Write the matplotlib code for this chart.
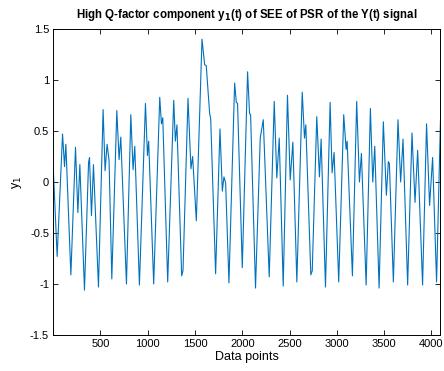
import numpy as np
import matplotlib
matplotlib.use("Agg")
import matplotlib.pyplot as plt

# turning points of y1(t)
sample_idx = [1, 42, 99, 120, 134, 187, 236, 261, 282, 331, 374, 384, 405, 426, 479,
              528, 549, 570, 591, 620, 673, 697, 715, 775, 821, 845, 863, 912, 976,
              997, 1010, 1063, 1127, 1145, 1159, 1211, 1275, 1292, 1309, 1359, 1373,
              1426, 1457, 1475, 1514, 1574, 1602, 1619, 1655, 1666, 1718, 1764, 1789,
              1806, 1824, 1859, 1919, 1937, 1950, 2000, 2056, 2077, 2088, 2140, 2190,
              2222, 2285, 2338, 2365, 2391, 2433, 2478, 2507, 2535, 2577, 2634, 2658,
              2672, 2725, 2740, 2788, 2816, 2834, 2880, 2929, 2950, 2971, 3020, 3073,
              3098, 3109, 3165, 3210, 3239, 3260, 3310, 3355, 3380, 3401, 3447, 3492,
              3524, 3545, 3556, 3598, 3647, 3675, 3700, 3749, 3795, 3827, 3855, 3907,
              3949, 3981, 4013, 4055, 4096]
y1 = [0.13, -0.73, 0.47, 0.15, 0.37, -0.91, 0.34, -0.30, 0.17, -1.06, 0.19, 0.24, -0.33,
      0.17, -1.03, 0.71, 0.11, 0.37, 0.21, -0.95, 0.70, 0.22, 0.44, -1.00, 0.66, 0.12,
      0.35, -1.01, 0.77, 0.26, 0.40, -1.00, 0.83, 0.57, 0.63, -0.98, 0.80, 0.40, 0.56,
      -0.92, -0.87, 0.82, 0.13, 0.25, -0.38, 1.40, 1.15, 1.14, 0.67, 0.62, -0.90, 0.52,
      -0.09, 0.05, -0.01, -0.99, 0.97, 0.78, 0.77, -0.84, 1.08, 0.67, 0.66, -1.04, 0.43,
      0.61, -0.93, 0.79, 0.04, 0.43, -1.02, 0.85, 0.02, 0.39, -0.98, 0.88, 0.43, 0.56,
      -0.91, -0.87, 0.64, 0.05, 0.42, -1.03, 0.78, 0.09, 0.29, -0.98, 0.66, 0.32, 0.40,
      -0.92, 0.79, 0.00, 0.28, -1.01, 0.72, 0.00, 0.35, -1.04, 0.59, -0.13, 0.20, 0.18,
      -0.98, 0.61, 0.00, 0.42, -1.01, 0.48, -0.20, 0.31, -1.01, 0.57, -0.23, 0.24, -0.98,
      0.60]

x_ticks = [500, 1000, 1500, 2000, 2500, 3000, 3500, 4000]
y_ticks = [-1.5, -1, -0.5, 0, 0.5, 1, 1.5]
y_tick_labels = ["-1.5", "-1", "-0.5", "0", "0.5", "1", "1.5"]

plt.rcParams["font.family"] = ["Liberation Sans", "DejaVu Sans"]

fig = plt.figure(figsize=(4.44, 3.71), dpi=100)
ax = fig.add_axes([0.120, 0.097, 0.872, 0.825])

ax.plot(sample_idx, y1, color="#0072BD", linewidth=0.8)

ax.set_xlim(1, 4096)
ax.set_ylim(-1.5, 1.5)
ax.set_xticks(x_ticks)
ax.set_xticklabels([str(t) for t in x_ticks])
ax.set_yticks(y_ticks)
ax.set_yticklabels(y_tick_labels)
ax.tick_params(direction="in", length=3.5, width=0.6, labelsize=8,
               top=True, right=True, pad=3)
for s in ax.spines.values():
    s.set_linewidth(0.7)

ax.set_xlabel("Data points", fontsize=9, labelpad=1)
ax.set_ylabel(r"y$_{1}$", fontsize=9, labelpad=4)
ax.set_title(r"High Q-factor component y$_{\mathbf{1}}$(t) of SEE of PSR of the Y(t) signal",
             fontsize=8.3, fontweight="bold", pad=8)

fig.savefig("out.png", dpi=100)
